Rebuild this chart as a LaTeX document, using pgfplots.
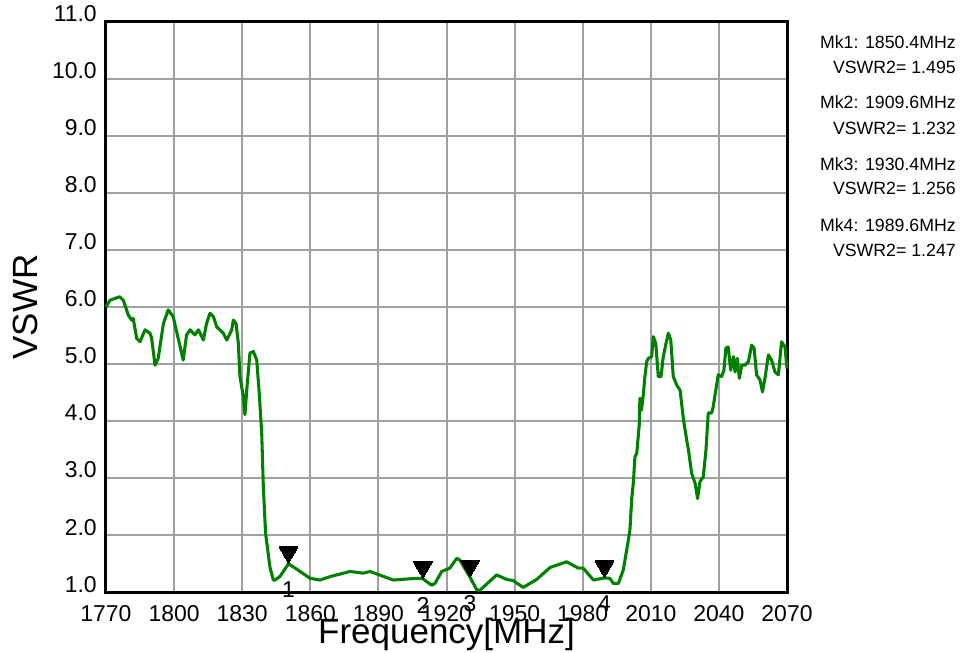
\documentclass[border=0pt]{standalone}
\usepackage{pgfplots}
\pgfplotsset{compat=1.18}
\usepackage{fontspec}
\setmainfont{Liberation Sans}
\definecolor{curvegreen}{RGB}{0,128,0}
\definecolor{gridgray}{RGB}{160,160,160}
\begin{document}
\begin{tikzpicture}
\begin{axis}[
  scale only axis,
  width=510.75pt, height=427.5pt,
  xmin=1770, xmax=2070, ymin=1, ymax=11,
  xtick={1770,1800,...,2070},
  ytick={1,2,...,11},
  grid=major,
  major grid style={gridgray, line width=1.5pt},
  axis line style={black, line width=2.25pt},
  major tick length=0pt,
  clip=false,
  /pgf/number format/assume math mode=true,
  xticklabel style={/pgf/number format/1000 sep={}, anchor=north, inner sep=0pt, yshift=-9.75pt, font=\fontsize{17.2}{19}\selectfont},
  yticklabel style={/pgf/number format/fixed, /pgf/number format/fixed zerofill, /pgf/number format/precision=1, anchor=base east, inner sep=0pt, xshift=-6.75pt, font=\fontsize{17.2}{19}\selectfont},
  xlabel={Frequency[MHz]},
  ylabel={VSWR},
  xlabel style={at={(axis description cs:0.5,-0.0912)}, anchor=base, inner sep=0pt, font=\fontsize{26.25}{28}\selectfont},
  ylabel style={at={(axis description cs:-0.0999,0.5)}, anchor=base, inner sep=0pt, rotate=0, font=\fontsize{26.25}{28}\selectfont},
]
\addplot[curvegreen, line width=2.3pt, line join=round] coordinates {
(1770,6.0) (1771.8,6.12) (1774,6.15) (1776,6.18) (1777.6,6.12) (1779.8,5.86)
(1781.3,5.77) (1782,5.8) (1783.5,5.45) (1785,5.39) (1787.2,5.6) (1789.4,5.54)
(1790.1,5.45) (1791.6,4.98) (1793,5.1) (1795.3,5.71) (1797.4,5.95) (1799.6,5.83)
(1801.8,5.45) (1804,5.07) (1805.5,5.51) (1807,5.6) (1809.2,5.51) (1810.7,5.6)
(1812.9,5.42) (1814.3,5.71) (1815.8,5.89) (1817.3,5.83) (1818.8,5.65) (1821.7,5.54)
(1823.2,5.42) (1825.4,5.6) (1826.1,5.77) (1827.3,5.71) (1828.3,5.36) (1829,4.78)
(1830.5,4.43) (1831.2,4.11) (1832,4.54) (1833.4,5.19) (1834.9,5.22) (1836.4,5.07)
(1837.5,4.49) (1838.6,3.78) (1839.3,2.85) (1840.3,2.03) (1842.2,1.44) (1843.7,1.21)
(1844.4,1.21) (1846.6,1.27) (1850.4,1.495) (1853.3,1.42) (1859.9,1.24) (1864.3,1.21)
(1868.7,1.27) (1877.5,1.36) (1883.3,1.33) (1886.3,1.36) (1896.6,1.21) (1906.8,1.24)
(1909.6,1.232) (1913.4,1.12) (1914.9,1.15) (1917.9,1.36) (1921.5,1.42) (1924.5,1.59)
(1925.9,1.56) (1930.4,1.256) (1933.3,1.04) (1934.7,1.03) (1942.1,1.30) (1946.5,1.22)
(1949.4,1.20) (1953.8,1.08) (1959.7,1.22) (1965.6,1.43) (1972.9,1.53) (1978,1.42)
(1980.2,1.42) (1984.7,1.21) (1989.6,1.247) (1992,1.24) (1993.5,1.15) (1995.7,1.15)
(1997.9,1.39) (2000.1,1.91) (2000.8,2.09) (2001.6,2.64) (2002.3,2.91) (2003,3.37)
(2003.8,3.43) (2004.9,3.93) (2005.2,4.4) (2005.9,4.19) (2006.7,4.46) (2007.4,4.78)
(2008.2,5.04) (2008.9,5.1) (2010.4,5.13) (2011.1,5.48) (2012.2,5.36) (2013.3,4.78)
(2014.5,4.78) (2015.5,5.13) (2016.7,5.36) (2017.7,5.54) (2018.8,5.42) (2019.9,4.78)
(2021.4,4.63) (2022.9,4.54) (2024.4,4.02) (2025.8,3.67) (2026.6,3.49) (2028,3.08)
(2029.5,2.91) (2030.6,2.64) (2031.7,2.94) (2033.1,3.02) (2034.3,3.49) (2035.3,4.14)
(2036.8,4.14) (2037.5,4.25) (2038.3,4.46) (2039.7,4.81) (2041.2,4.78) (2042.2,4.89)
(2043.1,5.28) (2044.1,5.3) (2045.2,4.89) (2046.4,5.13) (2047.1,4.86) (2048.1,5.1)
(2049,4.75) (2050.1,4.98) (2051.5,4.98) (2053,5.04) (2054.4,5.33) (2055.5,5.28)
(2056.6,4.81) (2058.1,4.72) (2059.2,4.51) (2060.3,4.75) (2061.8,5.16) (2063.2,5.07)
(2064.7,4.86) (2066.2,4.81) (2067.6,5.39) (2069.1,5.3) (2070,4.92)
};
\addplot[only marks, mark=triangle*, mark size=8.2pt,
  mark options={fill=black, draw=black, line width=0pt, yshift=8.6pt, rotate=180}]
  coordinates {(1850.4,1.495) (1909.6,1.232) (1930.4,1.256) (1989.6,1.247)};
\addplot[draw=none, mark=none, nodes near coords, point meta=explicit symbolic,
  every node near coord/.append style={anchor=north, inner sep=0pt, yshift=-13.5pt, text=black, font=\fontsize{17.2}{19}\selectfont}]
  coordinates {(1850.4,1.495) [1] (1909.6,1.232) [2] (1930.4,1.256) [3] (1989.6,1.247) [4]};
\begin{scope}[every node/.style={anchor=east, inner sep=0pt, font=\fontsize{13.3}{15}\selectfont}]
\node at (axis description cs:1.2482,0.9649) {Mk1: 1850.4MHz};
\node at (axis description cs:1.2482,0.9211) {VSWR2= 1.495};
\node at (axis description cs:1.2482,0.8596) {Mk2: 1909.6MHz};
\node at (axis description cs:1.2482,0.8140) {VSWR2= 1.232};
\node at (axis description cs:1.2482,0.7509) {Mk3: 1930.4MHz};
\node at (axis description cs:1.2482,0.7088) {VSWR2= 1.256};
\node at (axis description cs:1.2482,0.6439) {Mk4: 1989.6MHz};
\node at (axis description cs:1.2482,0.6000) {VSWR2= 1.247};
\end{scope}
\end{axis}
\pgfresetboundingbox
\path[use as bounding box] (-79.5pt,-45.75pt) rectangle (640.5pt,444pt);
\end{tikzpicture}
\end{document}
